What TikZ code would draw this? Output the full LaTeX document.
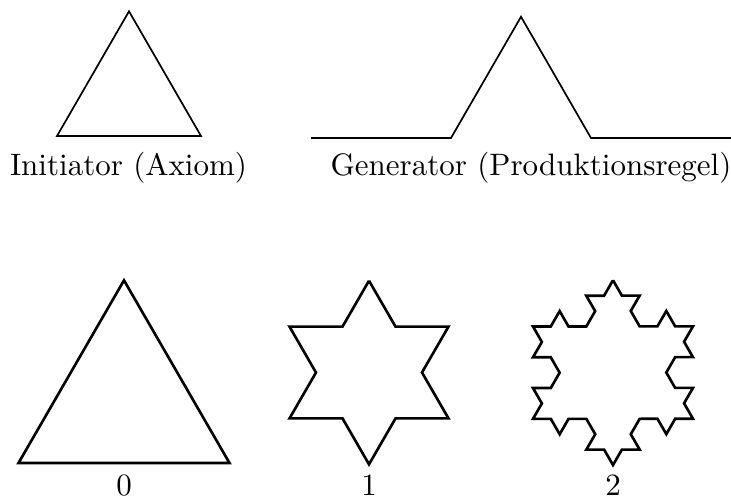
\documentclass[tikz,border=0pt]{standalone}
\usepackage{tikz}
\usetikzlibrary{decorations.fractals}
\tikzset{
  fig-thin/.style={draw=black,line width=0.55pt,line join=miter},
  fig-thick/.style={draw=black,line width=0.85pt,line join=miter},
  % eine Stufe Koch-Ersetzung pro decorate{...}
  koch/.style={decoration=Koch snowflake},
  caption/.style={font=\normalsize,inner sep=0pt,anchor=base},
}
\begin{document}
\begin{tikzpicture}[x=0.3226pt,y=-0.3226pt]
  \useasboundingbox (0,0) rectangle (731,498);
  % Initiator und Generator
  \draw[fig-thin] (129,11.3) -- (201,136) -- (57,136) -- cycle;
  \node[caption] (init) at (128.5,175) {Initiator (Axiom)};
  \draw[fig-thin,koch] decorate{ (311,138) -- (731,138) };
  \node[caption] (gen) at (531,175) {Generator (Produktionsregel)};
  % Stufen 0, 1, 2
  \draw[fig-thick] (124,280.3) -- (229.5,463) -- (18.5,463) -- cycle;
  \node[caption] (step0) at (124,495) {0};
  \draw[fig-thick,koch] decorate{ (369,280.7) -- (448.5,418.4) -- (289.5,418.4) -- (369,280.7) };
  \node[caption] (step1) at (369,495) {1};
  \draw[fig-thick,koch] decorate{ decorate{ (613,280.2) -- (693,418.8) -- (533,418.8) -- (613,280.2) } };
  \node[caption] (step2) at (613,495) {2};
\end{tikzpicture}
\end{document}
